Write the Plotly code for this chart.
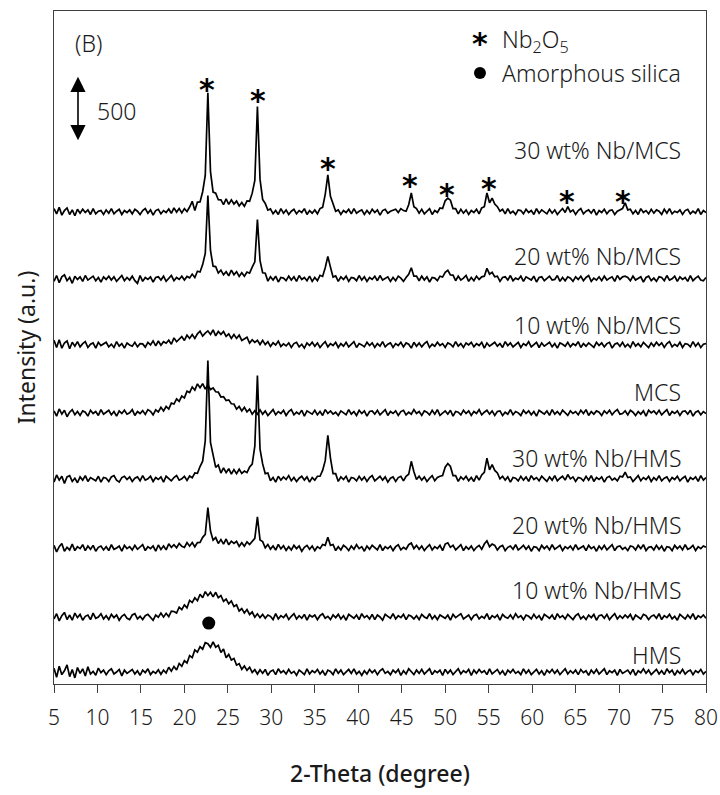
import plotly.graph_objects as go

# ---- 2-theta sampling (degrees) ----
two_theta_start = 5.0
two_theta_step = 0.3
n_points = 251
two_theta = [round(two_theta_start + two_theta_step * i, 2) for i in range(n_points)]

sample_names = ["HMS", "10 wt% Nb/HMS", "20 wt% Nb/HMS", "30 wt% Nb/HMS",
                "MCS", "10 wt% Nb/MCS", "20 wt% Nb/MCS", "30 wt% Nb/MCS"]

# ---- intensities above each pattern's own baseline (counts) ----
hms = [
    30, -40, 45, -20, 10, 55, -35, 20, -45, 35,
    -10, 25, -30, 40, -15, 5, -25, 30, -5, 15,
    -20, 10, 25, -15, 0, 20, -30, 15, -10, 5,
    20, -15, 10, -25, 15, -5, 25, -20, 5, -10,
    17, -17, 15, -7, 37, 7, 43, 16, 66, 44,
    88, 69, 127, 111, 170, 153, 195, 176, 226, 218,
    190, 233, 191, 206, 150, 178, 110, 136, 92, 104,
    53, 64, 21, 46, 13, 37, -3, 18, -15, 18,
    -10, 20, -25, 5, 15, -20, 25, -5, 10, -15,
    20, -10, 5, -25, 15, 0, -20, 25, -15, 10,
    -5, 20, -15, 10, -25, 15, 5, -20, 25, -10,
    15, -20, 0, 20, -10, 25, -15, 5, -25, 10,
    -15, 20, -5, 15, -20, 10, 25, -10, 5, -20,
    15, -5, 20, -25, 10, -15, 25, 0, -20, 15,
    -10, 20, -15, 5, 25, -20, 10, -5, 15, -25,
    20, -10, 15, -20, 5, 25, -15, 10, -5, 20,
    -25, 15, -10, 20, -5, 10, -20, 25, -15, 5,
    20, -15, 10, -25, 15, -5, 20, -10, 5, -20,
    25, -10, 15, -20, 0, 20, -15, 10, -25, 15,
    -5, 20, -10, 15, -20, 5, 25, -15, 10, -10,
    15, -20, 20, -5, 10, -25, 15, -10, 20, -15,
    5, 25, -20, 10, -5, 15, -25, 20, -10, 5,
    15, -15, 20, -25, 10, -5, 25, -10, 15, -20,
    0, 20, -15, 10, -20, 25, -5, 15, -25, 10,
    -10, 20, -15, 5, 15, -20, 10, -5, 20, -15,
    5,
]

nb10_hms = [
    -15, 25, -30, 10, 35, -20, 15, -25, 30, -5,
    20, -25, 5, 15, -20, 30, -10, 0, 25, -15,
    10, -20, 20, -5, 15, -25, 5, 20, -10, -20,
    15, 25, -15, 5, -20, 10, 20, -5, -25, 15,
    -2, 30, -1, 28, 3, 44, 42, 30, 75, 56,
    93, 70, 128, 111, 148, 125, 175, 148, 195, 164,
    190, 154, 190, 148, 165, 120, 138, 101, 123, 80,
    93, 46, 65, 30, 57, 19, 38, -2, 24, -5,
    20, -10, 15, 5, -20, 25, -15, 10, -5, 20,
    -20, 5, 25, -15, 10, -10, 20, -25, 15, 0,
    15, -20, 10, 25, -10, 5, -20, 15, -5, 20,
    -15, 10, -25, 20, 5, -10, 15, -20, 25, -5,
    10, -15, 20, -20, 15, 0, -25, 20, 5, -10,
    25, -15, 10, -5, 20, -20, 15, 5, -15, 10,
    -20, 20, 0, -10, 25, -15, 10, -20, 15, 5,
    -10, 15, -25, 20, -5, 10, 25, -15, 0, 15,
    -20, 10, 20, -15, 5, -10, 25, -20, 10, -5,
    15, -25, 20, 0, -10, 15, -15, 25, -5, 10,
    -20, 15, 5, -15, 20, -10, 10, -25, 20, 5,
    -10, 15, -20, 25, -5, 10, -15, 20, 0, -20,
    10, 25, -15, 5, -20, 15, -5, 20, -25, 10,
    15, -10, 20, -20, 5, 25, -15, 10, -10, 15,
    -5, 20, -25, 15, 0, -15, 20, 10, -20, 5,
    15, -10, 25, -20, 10, -5, 20, -15, 5, -25,
    20, 0, -15, 15, -10, 25, -20, 10, -5, 15,
    -10,
]

nb20_hms = [
    20, -30, 10, 35, -25, 5, -15, 30, -20, 10,
    -5, 25, -20, 15, -10, 20, -25, 5, 15, -15,
    10, -20, 25, -10, 0, 15, -25, 20, -5, 10,
    -15, 20, -10, 5, 25, -20, 10, -5, 15, -25,
    23, -11, 15, -14, 32, 4, 25, 2, 35, 12,
    4, 42, 14, 42, 9, 41, 43, 82, 105, 310,
    130, 60, 80, 35, 65, 30, 69, 24, 52, 35,
    51, 13, 41, 14, 47, 26, 51, 74, 240, 62,
    49, 1, 27, -9, 15, -16, 28, -7, 17, -18,
    10, -15, 20, -5, 15, -25, 5, 20, -10, 15,
    -20, 10, -5, 27, 20, 82, 20, 27, -20, 10,
    -15, 20, 5, -20, 15, -10, 25, -5, 10, -25,
    15, -10, 20, 0, -15, 25, -20, 10, -5, 15,
    -20, 10, 25, -15, 5, -10, 25, 38, -5, 20,
    -10, 15, -20, 5, 25, -15, 10, -5, 20, -20,
    30, 40, 5, 20, -15, 5, 25, -20, 10, -10,
    15, -20, 5, 20, -10, 30, 55, 10, 30, 20,
    -15, 10, 20, -20, 5, 15, -10, 25, -15, 0,
    20, -10, 15, -25, 10, 5, -20, 20, -5, 15,
    -15, 25, -10, 5, 20, -20, 10, -5, 15, -15,
    25, -10, 0, 15, -20, 20, -5, 10, -25, 15,
    -10, 20, -15, 5, 25, -20, 10, 15, -10, 5,
    -20, 15, 10, -15, 20, -5, 25, -20, 5, 10,
    -15, 20, -10, 15, -25, 10, 5, -20, 20, -5,
    15, -15, 25, -10, 0, 20, -20, 10, -5, 15,
    5,
]

nb30_hms = [
    -25, 30, -10, 20, -35, 15, 25, -20, 5, -30,
    15, -10, 25, -20, 10, 0, -15, 20, -25, 10,
    5, -20, 15, 25, -10, -25, 10, 20, -5, 15,
    -20, 5, 15, -15, 25, -10, 0, 20, -20, 10,
    -5, 15, -25, 20, 5, -15, 10, 25, -10, 0,
    20, -12, 22, 8, 45, 42, 95, 136, 293, 910,
    280, 168, 88, 107, 45, 85, 48, 78, 37, 71,
    40, 74, 42, 60, 48, 91, 114, 252, 795, 228,
    115, 40, 45, -15, 10, -25, 20, -10, 15, -5,
    25, -15, 10, -20, 5, 20, -10, 15, -25, 10,
    -10, 20, 20, 65, 140, 335, 160, 40, 40, -20,
    15, -5, 20, -25, 10, 5, -15, 20, -10, 15,
    -20, 10, 25, -15, 0, 20, -10, 15, -25, 5,
    15, -20, 10, 20, -15, 20, 35, 135, 55, -5,
    20, -10, 15, -20, 5, 25, -15, 10, 20, 25,
    90, 118, 95, 25, 25, -20, 15, -5, 20, -15,
    10, -20, 25, -10, 30, 50, 159, 70, 110, 65,
    45, 0, 20, -10, 15, -25, 10, 5, -15, 20,
    -10, 15, -20, 25, -5, 10, -15, 20, 0, -20,
    15, -10, 25, -15, 5, 20, -10, 33, 0, 15,
    -20, 10, 5, -15, 20, -10, 25, -20, 10, -5,
    15, -25, 10, 20, -10, 5, -15, 20, 15, 51,
    10, 15, -20, 5, 25, -15, 10, -5, 20, -20,
    10, -10, 25, -15, 5, 15, -20, 10, -5, 20,
    -15, 5, 20, -25, 10, -5, 15, -20, 25, -10,
    10,
]

mcs = [
    15, -25, 30, -10, 20, -30, 5, 25, -15, 10,
    -20, 15, 5, -25, 20, -5, 10, -20, 25, -10,
    5, 20, -15, 10, -25, 15, -5, 20, -10, 0,
    25, -20, 10, -5, 17, -12, 25, 12, -15, 23,
    7, 43, 15, 49, 29, 75, 68, 108, 88, 129,
    115, 166, 156, 199, 175, 223, 193, 225, 183, 213,
    180, 192, 162, 160, 122, 124, 95, 100, 70, 68,
    29, 49, 15, 43, 7, 28, -10, 17, -10, 23,
    -10, 15, -20, 5, 25, -15, 10, -5, 20, -20,
    10, 25, -15, 5, -10, 20, -25, 15, 0, -10,
    20, -15, 10, -20, 25, -5, 15, -10, 5, -20,
    15, 0, -15, 25, -10, 10, -20, 20, -5, 15,
    -25, 10, 15, -10, 20, -15, 5, 25, -20, 10,
    -5, 15, -20, 10, 20, -15, 5, -10, 25, -5,
    10, -20, 15, 5, -15, 20, -10, 25, -20, 0,
    15, -10, 20, -25, 10, 5, -15, 20, -5, 15,
    -20, 10, -5, 25, -15, 5, 20, -10, 15, -20,
    10, 15, -20, 5, -10, 25, -15, 10, 0, -20,
    20, -5, 15, -15, 10, -25, 20, 5, -10, 15,
    -20, 25, -10, 10, -15, 20, 0, -20, 15, -5,
    10, -15, 20, -5, 25, -20, 10, -10, 15, 5,
    -20, 15, -5, 20, -15, 10, 25, -10, -5, 15,
    -15, 20, 5, -20, 10, -10, 15, -25, 20, 0,
    15, -10, 20, -15, 5, 25, -20, 10, -5, 15,
    -20, 10, 15, -10, 20, -25, 5, 15, -15, 10,
    -5,
]

nb10_mcs = [
    35, -20, 40, -25, 15, 30, -30, 20, -10, 25,
    -15, 10, 25, -20, 5, 15, -25, 20, -5, 10,
    20, -15, 5, -20, 25, -10, 10, -25, 15, 0,
    -10, 20, -15, 10, 8, -17, 19, 0, 31, -7,
    30, -3, 25, 13, 36, 5, 54, 24, 44, 64,
    34, 75, 50, 80, 50, 85, 105, 68, 91, 108,
    80, 115, 70, 103, 81, 103, 65, 85, 50, 80,
    50, 75, 34, 49, 59, 14, 39, 20, 36, 3,
    35, 2, 25, -12, 16, 0, 29, -12, 8, -8,
    15, -20, 10, 20, -15, 5, -25, 15, -5, 20,
    -10, 15, -20, 5, 25, -15, 10, -5, 20, -20,
    10, -10, 20, -15, 5, 25, -20, 10, 0, -15,
    20, -5, 15, -20, 10, -10, 25, -15, 5, 15,
    -20, 10, -5, 20, -15, 15, 5, -25, 20, -10,
    15, -15, 10, 25, -20, 5, -10, 20, -5, 10,
    -20, 15, 5, -15, 25, -10, 10, -20, 15, 0,
    20, -15, 10, -5, 20, -25, 15, -10, 5, 20,
    -10, 10, -20, 25, -5, 15, -15, 5, 20, -20,
    10, -5, 25, -15, 0, 20, -20, 15, -10, 5,
    20, -15, 10, -25, 15, 5, -10, 20, -15, 10,
    -5, 25, -20, 10, -10, 15, 0, -20, 20, -5,
    15, -15, 10, 20, -25, 5, 15, -10, 20, -15,
    5, -20, 25, -10, 10, -15, 20, 0, -20, 15,
    -10, 20, -5, 15, -20, 10, 25, -15, 5, -10,
    20, -20, 10, 5, -15, 25, -10, 15, -20, 5,
    10,
]

nb20_mcs = [
    -20, 25, -30, 15, 30, -15, 10, -35, 20, -5,
    15, -20, 25, -10, 5, 20, -15, 10, -25, 15,
    -5, 20, -10, 15, -20, 5, 25, -15, 10, -10,
    20, -15, -35, 25, -20, 10, -5, 15, -25, 10,
    15, -10, 20, -20, 5, 25, -15, 10, -5, 20,
    -10, 18, 7, 36, 10, 58, 52, 109, 195, 640,
    218, 97, 94, 44, 66, 30, 54, 23, 67, 31,
    55, 18, 46, 19, 52, 43, 89, 130, 455, 140,
    46, 43, -18, 15, -10, 20, -25, 10, 5, -15,
    20, -10, 15, -20, 25, -5, 10, -15, 20, -20,
    10, -15, 27, 18, 85, 172, 90, 13, 22, -20,
    15, -5, 20, -20, 10, 5, -15, 25, -10, 15,
    -20, 10, -5, 20, -15, 25, -10, 5, 15, -20,
    10, -15, 20, 5, -20, 10, 35, 85, 20, 20,
    -15, 20, -10, 15, -25, 10, 5, -15, 20, 13,
    50, 65, 30, 28, -15, 20, -10, 5, 25, -20,
    10, -15, 20, -5, 15, 20, 80, 35, 50, 15,
    20, -20, 10, 15, -10, 25, -15, 5, -5, 20,
    -20, 15, 5, -10, 20, -25, 10, 15, -15, 5,
    20, -10, -5, 25, -20, 10, -15, 15, 5, -20,
    15, -5, 20, -15, 10, 25, -20, 5, -10, 15,
    -15, 20, -10, 5, 15, -20, 25, -5, 15, 20,
    10, -15, 20, -10, 5, 15, -25, 10, 20, -15,
    5, -20, 15, 10, -15, 25, -10, 0, 20, -20,
    15, -5, 10, -20, 25, -15, 5, 20, -10, -15,
    10,
]

nb30_mcs = [
    25, -15, 35, -25, 10, 30, -20, 15, -30, 20,
    -10, 20, -5, 15, -20, 25, -15, 5, 10, -20,
    15, -10, 25, -15, 5, 20, -20, 10, -5, 15,
    -15, 20, 5, -20, 10, 25, -10, 15, -25, 10,
    20, -15, 10, -5, 22, -11, 31, -2, 25, -8,
    25, 3, 37, 81, 10, 75, 76, 155, 280, 916,
    310, 152, 144, 93, 92, 56, 100, 58, 92, 60,
    83, 45, 72, 43, 85, 82, 144, 242, 810, 250,
    96, 65, 13, 23, -15, 10, -20, 25, -10, 15,
    -20, 5, 20, -15, 10, -5, 25, -20, 10, -10,
    15, -15, 25, 35, 135, 285, 120, 55, 5, 15,
    -20, 10, -5, 20, -15, 25, -10, 5, 15, -20,
    10, -15, 20, -5, 15, -25, 10, 20, -10, 5,
    15, 20, -5, 25, 10, 5, 55, 145, 40, 25,
    -10, 20, -15, 5, 25, -20, 10, -5, 30, 25,
    85, 105, 90, 25, 25, -15, 20, -10, 15, -20,
    10, -5, 20, -15, 30, 40, 145, 70, 105, 60,
    40, 5, 20, -15, 25, -10, 5, -20, 15, 10,
    -15, 20, -5, 10, -20, 25, -10, 15, 0, -15,
    20, -10, 15, -20, 5, 25, -5, 40, 0, 15,
    -20, 10, 25, -15, 5, 15, -10, 20, -25, 10,
    -5, 20, -15, 10, 15, -20, 5, 15, 25, 70,
    15, 20, -15, 10, -20, 25, -5, 10, -15, 20,
    -10, 15, 5, -20, 20, -10, 25, -15, 5, -5,
    15, -20, 10, 20, -15, 5, -10, 25, -20, 10,
    -5,
]

series = [hms, nb10_hms, nb20_hms, nb30_hms, mcs, nb10_mcs, nb20_mcs, nb30_mcs]
for s in series:
    assert len(s) == n_points, len(s)

# ---- stacking / annotation positions (counts on the intensity axis) ----
stack_offsets = [92, 516, 1047, 1579, 2087, 2610, 3119, 3634]
label_y = [223, 724, 1224, 1740, 2248, 2763, 3294, 4110]
nb2o5_peaks = [22.6, 28.5, 36.5, 46.0, 50.2, 55.0, 64.0, 70.5]
asterisk_y = [4641, 4549, 4026, 3895, 3833, 3872, 3779, 3779]
silica_peak = 22.8
silica_marker_y = 469
y_max = 5180

TXT = "Noto Sans"
TXT_COLOR = "#1a1a1a"

fig = go.Figure()
for vals, off in zip(series, stack_offsets):
    fig.add_trace(go.Scatter(
        x=two_theta, y=[v + off for v in vals], mode="lines",
        line=dict(color="black", width=1.7), hoverinfo="skip", showlegend=False))

# amorphous silica marker
fig.add_trace(go.Scatter(x=[silica_peak], y=[silica_marker_y], mode="markers",
                         marker=dict(symbol="circle", size=13, color="black"),
                         hoverinfo="skip", showlegend=False))
# legend bullet
fig.add_trace(go.Scatter(x=[54.0], y=[4703], mode="markers",
                         marker=dict(symbol="circle", size=12, color="black"),
                         hoverinfo="skip", showlegend=False))

ast_font = dict(family="DejaVu Sans", size=30, color="black", weight="bold")
for px, py in zip(nb2o5_peaks, asterisk_y):
    fig.add_annotation(x=px, y=py, text="*", showarrow=False, font=ast_font,
                       xanchor="center", yanchor="middle", yshift=-8)
fig.add_annotation(x=54.0, y=4995, text="*", showarrow=False, font=ast_font,
                   xanchor="center", yanchor="middle", yshift=-8)

lab_font = dict(family=TXT, size=23, color=TXT_COLOR, weight=300)
fig.add_annotation(x=56.3, y=4950, text="Nb<sub>2</sub>O<sub>5</sub>", showarrow=False,
                   font=lab_font, xanchor="left", yanchor="middle")
fig.add_annotation(x=56.3, y=4703, text="Amorphous silica", showarrow=False,
                   font=lab_font, xanchor="left", yanchor="middle")

for name, ly in zip(sample_names, label_y):
    fig.add_annotation(x=77.4, y=ly, text=name, showarrow=False, font=lab_font,
                       xanchor="right", yanchor="middle")

fig.add_annotation(x=7.2, y=4934, text="(B)", showarrow=False, font=lab_font,
                   xanchor="left", yanchor="middle")

# 500-count scale bar
fig.add_annotation(x=7.76, y=4674, ax=7.76, ay=4174, axref="x", ayref="y",
                   xref="x", yref="y", text="", showarrow=True, arrowhead=2,
                   arrowside="end+start", arrowsize=1.9, arrowwidth=1.6,
                   arrowcolor="black", standoff=0, startstandoff=0)
fig.add_annotation(x=9.7, y=4410, text="500", showarrow=False, font=lab_font,
                   xanchor="left", yanchor="middle")

fig.update_layout(
    width=720, height=795,
    margin=dict(l=54, r=14, t=11, b=111),
    paper_bgcolor="white", plot_bgcolor="white",
    xaxis=dict(range=[5, 80], dtick=5, tick0=5, showgrid=False, zeroline=False,
               showline=True, mirror=True, linecolor="#404040", linewidth=1.3,
               ticks="outside", ticklen=8, tickwidth=1.2, tickcolor="#404040",
               tickfont=dict(family=TXT, size=21, color=TXT_COLOR, weight=300),
               ticklabelstandoff=7, ticklabeloverflow="allow",
               title=dict(text="2-Theta (degree)", standoff=35,
                          font=dict(family=TXT, size=23, color=TXT_COLOR, weight=500)),
               automargin=False),
    yaxis=dict(range=[0, y_max], showgrid=False, zeroline=False, showticklabels=False,
               ticks="", showline=True, mirror=True, linecolor="#404040", linewidth=1.3,
               title=dict(text="Intensity (a.u.)", standoff=10,
                          font=dict(family=TXT, size=23, color=TXT_COLOR, weight=400)),
               automargin=False),
)

fig.write_html("out.html", config={"displayModeBar": False},
               post_script="document.body.style.margin='0';document.body.style.padding='0';")
